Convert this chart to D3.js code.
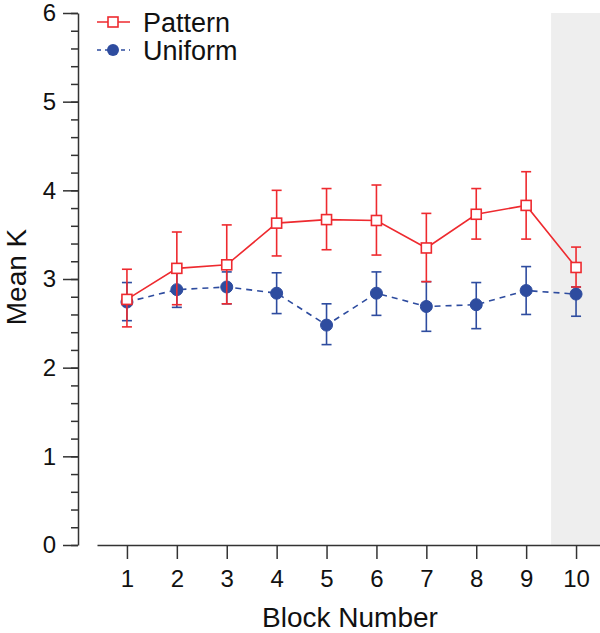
<!DOCTYPE html>
<html>
<head>
<meta charset="utf-8">
<script src="https://cdn.jsdelivr.net/npm/d3@7"></script>
<style>
  body { margin: 0; background: #fff; }
  svg text { font-family: "Liberation Sans", Arial, Helvetica, sans-serif; fill: #111; }
</style>
</head>
<body>
<div id="chart"></div>
<script>
// block numbers on the x axis
const blocks = [1, 2, 3, 4, 5, 6, 7, 8, 9, 10];

// Pattern condition: mean K and error bar ends
const patternMean = [2.77, 3.12, 3.16, 3.63, 3.67, 3.66, 3.35, 3.73, 3.83, 3.13];
const patternHi   = [3.11, 3.53, 3.61, 4.00, 4.02, 4.06, 3.74, 4.02, 4.21, 3.36];
const patternLo   = [2.46, 2.71, 2.72, 3.26, 3.33, 3.27, 2.97, 3.45, 3.45, 2.91];

// Uniform condition
const uniformMean = [2.74, 2.88, 2.91, 2.84, 2.48, 2.84, 2.69, 2.71, 2.87, 2.83];
const uniformHi   = [2.96, 3.07, 3.08, 3.07, 2.72, 3.08, 2.97, 2.96, 3.14, 2.91];
const uniformLo   = [2.53, 2.68, 2.72, 2.61, 2.26, 2.59, 2.41, 2.44, 2.60, 2.58];

const yTicks = [0, 1, 2, 3, 4, 5, 6];
const shadedFrom = 9.5;

const W = 600, H = 633;
const red = '#ee2a2f', blue = '#2e4c9f';

const svg = d3.select('#chart').append('svg')
  .attr('width', W)
  .attr('height', H);

const x = d3.scaleLinear().domain([0.4, 10.48]).range([97, 600]);
const y = d3.scaleLinear().domain([0, 6]).range([545, 13]);

// grey band for the last block
svg.append('rect')
  .attr('x', x(shadedFrom))
  .attr('y', y(6))
  .attr('width', W - x(shadedFrom))
  .attr('height', y(0) - y(6))
  .attr('fill', '#eeeeee');

// y axis: minor then major ticks
const minor = d3.range(0, 6.001, 0.2);
svg.append('g')
  .attr('transform', 'translate(78,0)')
  .call(d3.axisLeft(y).tickValues(minor).tickSize(7).tickSizeOuter(0).tickFormat(''))
  .call(g => g.selectAll('line, path').attr('stroke', '#333').attr('stroke-width', 1.5));

svg.append('g')
  .attr('transform', 'translate(78,0)')
  .call(d3.axisLeft(y).tickValues(yTicks).tickSize(15).tickSizeOuter(0).tickPadding(7).tickFormat(d3.format('d')))
  .call(g => g.select('.domain').remove())
  .call(g => g.selectAll('line').attr('stroke', '#333').attr('stroke-width', 1.5))
  .call(g => g.selectAll('text').style('font-size', '24px').attr('fill', '#111'));

// x axis
svg.append('g')
  .attr('transform', 'translate(0,545)')
  .call(d3.axisBottom(x).tickValues(blocks).tickSize(14).tickSizeOuter(0).tickPadding(11))
  .call(g => g.selectAll('line, path').attr('stroke', '#333').attr('stroke-width', 1.5))
  .call(g => g.selectAll('text').style('font-size', '24px').attr('fill', '#111'));

svg.append('text')
  .attr('x', 350)
  .attr('y', 627)
  .attr('text-anchor', 'middle')
  .style('font-size', '28px')
  .text('Block Number');

svg.append('text')
  .attr('transform', 'rotate(-90)')
  .attr('x', -277)
  .attr('y', 26)
  .attr('text-anchor', 'middle')
  .style('font-size', '28px')
  .text('Mean K');

function series(mean, hi, lo, color, dashed, marker) {
  const rows = blocks.map((b, i) => ({ b: b, m: mean[i], hi: hi[i], lo: lo[i] }));
  const g = svg.append('g');

  g.append('path')
    .datum(rows)
    .attr('fill', 'none')
    .attr('stroke', color)
    .attr('stroke-width', 1.6)
    .attr('stroke-dasharray', dashed ? '6,5' : null)
    .attr('d', d3.line().x(d => x(d.b)).y(d => y(d.m)));

  const eb = g.selectAll('.eb').data(rows).enter().append('g')
    .attr('stroke', color)
    .attr('stroke-width', 1.6);
  eb.append('line')
    .attr('x1', d => x(d.b)).attr('x2', d => x(d.b))
    .attr('y1', d => y(d.hi)).attr('y2', d => y(d.lo));
  eb.append('line')
    .attr('x1', d => x(d.b) - 5).attr('x2', d => x(d.b) + 5)
    .attr('y1', d => y(d.hi)).attr('y2', d => y(d.hi));
  eb.append('line')
    .attr('x1', d => x(d.b) - 5).attr('x2', d => x(d.b) + 5)
    .attr('y1', d => y(d.lo)).attr('y2', d => y(d.lo));

  const pts = g.selectAll('.pt').data(rows).enter();
  if (marker === 'square') {
    pts.append('rect')
      .attr('x', d => x(d.b) - 5).attr('y', d => y(d.m) - 5)
      .attr('width', 10).attr('height', 10)
      .attr('fill', '#fff').attr('stroke', color).attr('stroke-width', 1.6);
  } else {
    pts.append('circle')
      .attr('cx', d => x(d.b)).attr('cy', d => y(d.m)).attr('r', 6)
      .attr('fill', color).attr('stroke', color).attr('stroke-width', 1);
  }
}

series(uniformMean, uniformHi, uniformLo, blue, true, 'circle');
series(patternMean, patternHi, patternLo, red, false, 'square');

// legend
const legend = [
  { name: 'Pattern', color: red, dashed: false, marker: 'square', y: 22 },
  { name: 'Uniform', color: blue, dashed: true, marker: 'circle', y: 50 }
];
legend.forEach(l => {
  svg.append('line')
    .attr('x1', 97).attr('x2', 130).attr('y1', l.y).attr('y2', l.y)
    .attr('stroke', l.color).attr('stroke-width', 1.4)
    .attr('stroke-dasharray', l.dashed ? '4,4' : null);
  if (l.marker === 'square') {
    svg.append('rect').attr('x', 108).attr('y', l.y - 5).attr('width', 10).attr('height', 10)
      .attr('fill', '#fff').attr('stroke', l.color).attr('stroke-width', 1.6);
  } else {
    svg.append('circle').attr('cx', 113).attr('cy', l.y).attr('r', 6)
      .attr('fill', l.color);
  }
  svg.append('text')
    .attr('x', 143).attr('y', l.y + 10)
    .style('font-size', '27px')
    .text(l.name);
});
</script>
</body>
</html>
